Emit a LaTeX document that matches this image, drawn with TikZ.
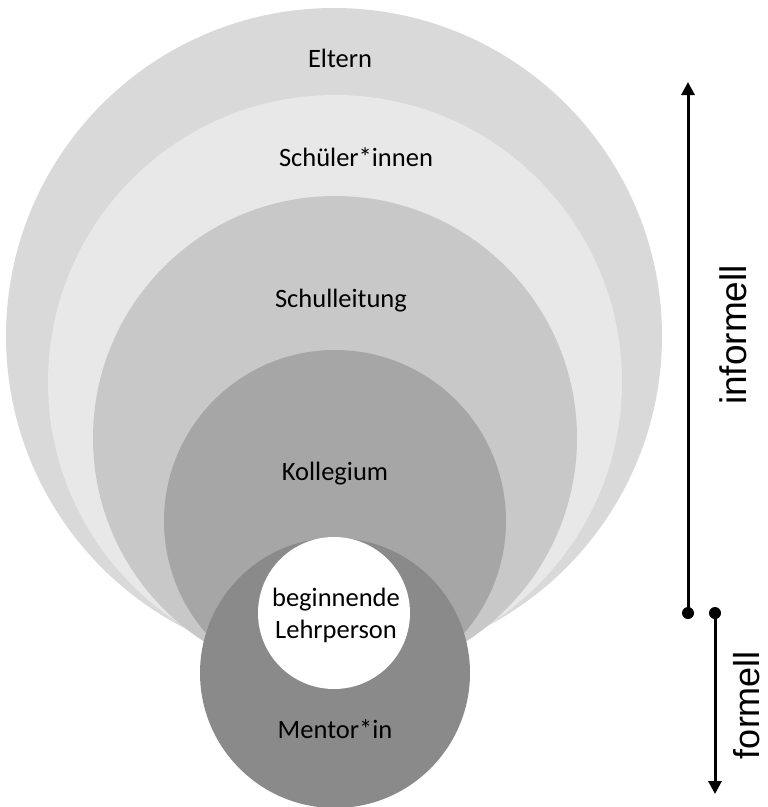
\documentclass[tikz,border=0pt]{standalone}
\usepackage{fontspec}
\setmainfont{Carlito}
\newfontfamily\axisfont{Liberation Sans}
\usetikzlibrary{arrows.meta}
\definecolor{cEltern}{HTML}{D9D9D9}
\definecolor{cSchueler}{HTML}{E8E8E8}
\definecolor{cLeitung}{HTML}{C8C8C8}
\definecolor{cKollegium}{HTML}{A6A6A6}
\definecolor{cMentor}{HTML}{8A8A8A}
\tikzset{
  ring/.style={inner sep=0pt, font=\fontsize{26.5}{32}\selectfont, text=black},
  axislabel/.style={inner sep=0pt, font=\axisfont\fontsize{37}{40}\selectfont, rotate=90},
  enddot/.style={circle, fill=black, minimum size=12pt, inner sep=0pt},
  axis/.style={line width=3pt, -{Triangle[length=13pt,width=13pt]}}
}
\begin{document}
\begin{tikzpicture}[x=1pt, y=-1pt]
  \useasboundingbox (0,0) rectangle (768,807);
  % nested circles, largest first
  \fill[cEltern]    (334,336) circle (328);
  \fill[cSchueler]  (335,382) circle (287);
  \fill[cLeitung]   (335,438) circle (242);
  \fill[cKollegium] (335,521) circle (171);
  \fill[cMentor]    (335,673) circle (135);
  \fill[white]      (334,613) circle (76);
  % labels of the circles
  \node[ring] (eltern)    at (340,58)  {Eltern};
  \node[ring] (schueler)  at (356,157) {Schüler*innen};
  \node[ring] (leitung)   at (341,301) {Schulleitung};
  \node[ring] (kollegium) at (335,474) {Kollegium};
  \node[ring, align=center] (lehr) at (336,615) {beginnende\\Lehrperson};
  \node[ring] (mentor)    at (335,729) {Mentor*in};
  % informal / formal axes
  \node[enddot] (dotI) at (688,613) {};
  \node[enddot] (dotF) at (715,613) {};
  \coordinate (topI) at (688,82);
  \coordinate (botF) at (715,794);
  \draw[axis] (dotI.center) -- (topI);
  \draw[axis] (dotF.center) -- (botF);
  \node[axislabel] (informell) at (733,335) {informell};
  \node[axislabel, font=\axisfont\fontsize{36}{40}\selectfont] (formell) at (747,705) {formell};
\end{tikzpicture}
\end{document}
